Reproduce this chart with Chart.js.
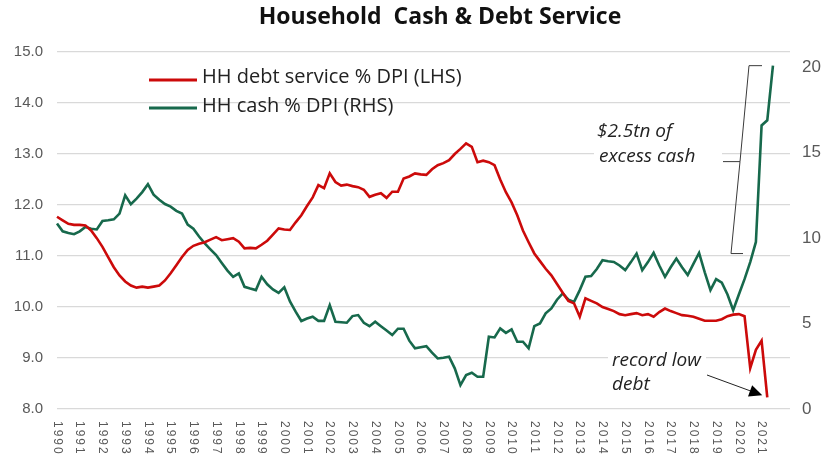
<!DOCTYPE html>
<html>
<head>
<meta charset="utf-8">
<script src="https://cdn.jsdelivr.net/npm/chart.js@4.4.0/dist/chart.umd.min.js"></script>
<style>
  html, body { margin: 0; padding: 0; background: #fff; }
  #wrap { width: 826px; height: 462px; position: relative; }
</style>
</head>
<body>
<div id="wrap"><canvas id="myChart"></canvas></div>
<script>
// tick labels shown on the x axis (one per year, at Q1)
const years = [
  "1990", "1991", "1992", "1993", "1994", "1995", "1996", "1997",
  "1998", "1999", "2000", "2001", "2002", "2003", "2004", "2005",
  "2006", "2007", "2008", "2009", "2010", "2011", "2012", "2013",
  "2014", "2015", "2016", "2017", "2018", "2019", "2020", "2021",
];

// HH debt service % DPI (LHS), quarterly from 1990Q1
const debtService = [
  11.77, 11.70, 11.63, 11.61,
  11.61, 11.60, 11.50, 11.35,
  11.18, 10.98, 10.78, 10.62,
  10.50, 10.42, 10.38, 10.40,
  10.38, 10.40, 10.42, 10.52,
  10.66, 10.82, 10.98, 11.12,
  11.20, 11.24, 11.27, 11.32,
  11.37, 11.31, 11.33, 11.35,
  11.28, 11.15, 11.16, 11.15,
  11.22, 11.30, 11.42, 11.54,
  11.52, 11.51, 11.66, 11.80,
  11.98, 12.15, 12.39, 12.33,
  12.62, 12.45, 12.38, 12.40,
  12.37, 12.35, 12.30, 12.16,
  12.20, 12.23, 12.14, 12.26,
  12.26, 12.52, 12.56, 12.62,
  12.60, 12.59, 12.70, 12.78,
  12.82, 12.88, 13.00, 13.10,
  13.21, 13.14, 12.84, 12.87,
  12.84, 12.78, 12.50, 12.25,
  12.05, 11.80, 11.50, 11.27,
  11.05, 10.90, 10.75, 10.62,
  10.45, 10.28, 10.12, 10.07,
  9.81, 10.17, 10.12, 10.07,
  10.00, 9.96, 9.92, 9.86,
  9.84, 9.86, 9.88, 9.84,
  9.86, 9.81, 9.90, 9.97,
  9.92, 9.88, 9.84, 9.83,
  9.81, 9.77, 9.73, 9.73,
  9.73, 9.76, 9.82, 9.85,
  9.86, 9.82, 8.80, 9.16,
  9.34, 8.23,
];

// HH cash % DPI (RHS), quarterly from 1990Q1
const cashDpi = [
  10.86, 10.40, 10.30, 10.23,
  10.40, 10.66, 10.55, 10.51,
  11.01, 11.05, 11.10, 11.44,
  12.51, 11.99, 12.32, 12.70,
  13.16, 12.55, 12.25, 12.00,
  11.85, 11.60, 11.44, 10.80,
  10.55, 10.10, 9.70, 9.35,
  9.01, 8.55, 8.10, 7.74,
  7.94, 7.15, 7.05, 6.96,
  7.74, 7.30, 7.00, 6.80,
  7.12, 6.30, 5.70, 5.15,
  5.30, 5.40, 5.16, 5.16,
  6.08, 5.11, 5.08, 5.05,
  5.44, 5.50, 5.05, 4.85,
  5.11, 4.85, 4.60, 4.33,
  4.70, 4.70, 4.00, 3.55,
  3.62, 3.68, 3.30, 2.96,
  3.00, 3.06, 2.38, 1.40,
  1.99, 2.12, 1.89, 1.89,
  4.23, 4.19, 4.72, 4.46,
  4.66, 3.94, 3.94, 3.55,
  4.85, 5.01, 5.60, 5.89,
  6.40, 6.77, 6.40, 6.27,
  6.96, 7.74, 7.78, 8.20,
  8.71, 8.65, 8.61, 8.40,
  8.13, 8.60, 9.10, 8.13,
  8.60, 9.14, 8.40, 7.74,
  8.30, 8.81, 8.30, 7.84,
  8.50, 9.14, 8.00, 6.96,
  7.60, 7.40, 6.70, 5.79,
  6.70, 7.60, 8.60, 9.78,
  16.60, 16.90, 20.10,
];

const rhsTicks = [0, 5, 10, 15, 20];

// quarterly categories, axis runs to 2022Q2
const quarters = [];
[...years, "2022"].forEach((yr) => {
  ["Q1", "Q2", "Q3", "Q4"].forEach((q) => quarters.push(yr + q));
});
quarters.splice(130);

const RED = "#cc0a0a";
const GREEN = "#17694c";
const TICK = "#595959";

const extras = {
  id: "extras",
  afterDatasetsDraw(chart) {
    const { ctx, scales } = chart;
    const x = scales.x;
    const y1 = scales.y1;
    const y = scales.y;
    ctx.save();

    // title
    ctx.fillStyle = "#111";
    ctx.font = 'bold 23px "Open Sans"';
    ctx.textAlign = "center";
    ctx.textBaseline = "middle";
    ctx.fillText("Household  Cash & Debt Service", 440, 17);

    // legend
    ctx.textAlign = "left";
    ctx.font = '20px "Open Sans"';
    ctx.lineWidth = 3;
    ctx.strokeStyle = RED;
    ctx.beginPath(); ctx.moveTo(149, 80); ctx.lineTo(197, 80); ctx.stroke();
    ctx.fillStyle = "#222";
    ctx.fillText("HH debt service % DPI (LHS)", 202, 77);
    ctx.strokeStyle = GREEN;
    ctx.beginPath(); ctx.moveTo(149, 108); ctx.lineTo(197, 108); ctx.stroke();
    ctx.fillText("HH cash % DPI (RHS)", 202, 106);

    // x axis year labels, rotated clockwise
    ctx.fillStyle = TICK;
    ctx.font = '12px "Liberation Sans"';
    ctx.letterSpacing = "2px";
    years.forEach((yr, i) => {
      const px = x.getPixelForValue(i * 4);
      ctx.save();
      ctx.translate(px, 421);
      ctx.rotate(Math.PI / 2);
      ctx.textAlign = "left";
      ctx.textBaseline = "middle";
      ctx.fillText(yr, 0, 0);
      ctx.restore();
    });
    ctx.letterSpacing = "0px";

    // annotation: excess cash bracket
    ctx.fillStyle = "#fff";
    ctx.fillRect(594, 121, 128, 48);
    ctx.fillStyle = "#222";
    ctx.font = 'italic 19px "Open Sans"';
    ctx.textBaseline = "middle";
    ctx.fillText("$2.5tn of", 597, 132);
    ctx.fillText("excess cash", 599, 157);

    const topY = y1.getPixelForValue(cashDpi[cashDpi.length - 1]);
    const botY = y1.getPixelForValue(9.1);
    const midY = (topY + botY) / 2 + 2;
    ctx.strokeStyle = "#3a3a3a";
    ctx.lineWidth = 1;
    ctx.beginPath();
    ctx.moveTo(762, topY);
    ctx.lineTo(749, topY);
    ctx.lineTo(740, midY);
    ctx.lineTo(731, botY);
    ctx.lineTo(743, botY);
    ctx.moveTo(740, midY);
    ctx.lineTo(723, midY);
    ctx.stroke();

    // annotation: record low debt arrow
    ctx.fillStyle = "#fff";
    ctx.fillRect(608, 349, 98, 46);
    ctx.fillStyle = "#222";
    ctx.fillText("record low", 612, 361);
    ctx.fillText("debt", 612, 385);

    const last = debtService.length - 1;
    const tipX = x.getPixelForValue(last) - 5;
    const tipY = y.getPixelForValue(debtService[last]) - 2;
    const sx = 707, sy = 375;
    const ang = Math.atan2(tipY - sy, tipX - sx);
    ctx.strokeStyle = "#222";
    ctx.beginPath();
    ctx.moveTo(sx, sy);
    ctx.lineTo(tipX - 10 * Math.cos(ang), tipY - 10 * Math.sin(ang));
    ctx.stroke();
    ctx.fillStyle = "#000";
    ctx.beginPath();
    ctx.moveTo(tipX, tipY);
    ctx.lineTo(tipX - 13 * Math.cos(ang) + 6 * Math.sin(ang), tipY - 13 * Math.sin(ang) - 6 * Math.cos(ang));
    ctx.lineTo(tipX - 13 * Math.cos(ang) - 6 * Math.sin(ang), tipY - 13 * Math.sin(ang) + 6 * Math.cos(ang));
    ctx.closePath();
    ctx.fill();

    ctx.restore();
  },
};

new Chart(document.getElementById("myChart"), {
  type: "line",
  data: {
    labels: quarters,
    datasets: [
      {
        label: "HH debt service % DPI (LHS)",
        data: debtService,
        borderColor: RED,
        borderWidth: 2.6,
        pointRadius: 0,
        tension: 0,
        yAxisID: "y",
      },
      {
        label: "HH cash % DPI (RHS)",
        data: cashDpi,
        borderColor: GREEN,
        borderWidth: 2.6,
        pointRadius: 0,
        tension: 0,
        yAxisID: "y1",
      },
    ],
  },
  options: {
    responsive: true,
    maintainAspectRatio: false,
    animation: false,
    layout: { padding: { top: 52, left: 0, right: 0, bottom: 0 } },
    plugins: {
      legend: { display: false },
      title: { display: false },
      tooltip: { enabled: false },
    },
    scales: {
      x: {
        offset: false,
        grid: { display: false },
        border: { display: false },
        ticks: { display: false },
        afterFit: (s) => { s.height = 53; },
      },
      y: {
        min: 8,
        max: 15,
        position: "left",
        border: { display: false },
        grid: { color: "#d9d9d9", lineWidth: 1.3, drawTicks: false },
        ticks: {
          stepSize: 1,
          padding: 14,
          color: TICK,
          font: { family: "Liberation Sans", size: 15 },
          callback: (v) => Number(v).toFixed(1),
        },
        afterFit: (s) => { s.width = 57; },
      },
      y1: {
        min: 0,
        max: 20.9,
        position: "right",
        border: { display: false },
        grid: { display: false, drawTicks: false },
        ticks: {
          padding: 12,
          color: TICK,
          font: { family: "Liberation Sans", size: 17 },
        },
        afterBuildTicks: (s) => { s.ticks = rhsTicks.map((v) => ({ value: v })); },
        afterFit: (s) => { s.width = 36; },
      },
    },
  },
  plugins: [extras],
});
</script>
</body>
</html>
